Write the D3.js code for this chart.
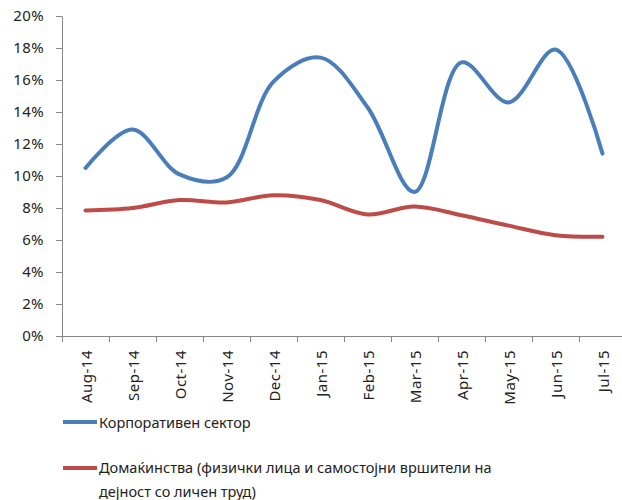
<!DOCTYPE html>
<html><head><meta charset="utf-8">
<script src="https://cdn.jsdelivr.net/npm/d3@7"></script>
<style>body{margin:0;background:#fff}svg{display:block}</style>
</head><body>
<script>
const categories = ["Aug-14","Sep-14","Oct-14","Nov-14","Dec-14","Jan-15","Feb-15","Mar-15","Apr-15","May-15","Jun-15","Jul-15"];
const corporate = [10.5, 12.9, 10.1, 9.9, 15.9, 17.4, 14.3, 9.0, 17.1, 14.6, 17.9, 11.4];
const households = [7.85, 8.0, 8.5, 8.35, 8.8, 8.5, 7.6, 8.1, 7.55, 6.9, 6.3, 6.2];
const yTicks = [0, 2, 4, 6, 8, 10, 12, 14, 16, 18, 20];
const seriesNames = ["Корпоративен сектор", "Домаќинства (физички лица и самостојни вршители на", "дејност со личен труд)"];

const W = 622, H = 500;
const svg = d3.select("body").append("svg").attr("width", W).attr("height", H);
const font = "'Noto Sans', 'Open Sans', sans-serif";

const plotLeft = 62, bandW = 47, plotTop = 16, plotBottom = 336;
const x = d3.scaleBand().domain(categories).range([plotLeft, plotLeft + bandW * categories.length]);
const y = d3.scaleLinear().domain([0, 20]).range([plotBottom, plotTop]);

// y axis
const yAxis = svg.append("g").attr("transform", `translate(${plotLeft},0)`)
  .call(d3.axisLeft(y).tickValues(yTicks).tickSize(6).tickSizeOuter(0).tickFormat(d => d + "%"));
yAxis.select(".domain").attr("stroke", "#878787");
yAxis.selectAll(".tick line").attr("stroke", "#878787");
yAxis.selectAll(".tick text").attr("font-family", font).attr("font-size", 15).attr("letter-spacing", 0.4)
  .attr("fill", "#222").attr("x", -18);

// x axis
const xAxis = svg.append("g").attr("transform", `translate(0,${plotBottom})`)
  .call(d3.axisBottom(x).tickSize(0).tickSizeOuter(0));
xAxis.select(".domain").attr("stroke", "#878787").attr("d", `M${plotLeft},0.5H${W}`);
xAxis.selectAll(".tick line").remove();
xAxis.selectAll(".tick text")
  .attr("font-family", font).attr("font-size", 15).attr("letter-spacing", 0.5).attr("fill", "#222")
  .attr("transform", "rotate(-90)").attr("text-anchor", "end")
  .attr("x", -14).attr("y", 1).attr("dy", "0.35em");
// boundary ticks between categories
const bounds = categories.map((c, i) => plotLeft + bandW * i).concat([plotLeft + bandW * categories.length]);
svg.append("g").selectAll("line").data(bounds).join("line")
  .attr("x1", d => d + 0.5).attr("x2", d => d + 0.5)
  .attr("y1", plotBottom).attr("y2", plotBottom + 6).attr("stroke", "#878787");

const cx = d => x(d) + x.bandwidth() / 2;
const line = d3.line().x(d => cx(d.c)).y(d => y(d.v)).curve(d3.curveCatmullRom.alpha(0.5));

svg.append("path").datum(categories.map((c, i) => ({c, v: households[i]})))
  .attr("d", line).attr("fill", "none").attr("stroke", "#be4b48").attr("stroke-width", 4).attr("stroke-linecap", "round");
svg.append("path").datum(categories.map((c, i) => ({c, v: corporate[i]})))
  .attr("d", line).attr("fill", "none").attr("stroke", "#4a7ebb").attr("stroke-width", 4).attr("stroke-linecap", "round");

// legend
const leg = svg.append("g");
leg.append("line").attr("x1", 63).attr("x2", 97).attr("y1", 422).attr("y2", 422).attr("stroke", "#4a7ebb").attr("stroke-width", 4);
leg.append("text").attr("x", 99).attr("y", 428).text(seriesNames[0]).attr("font-family", font).attr("font-size", 14.5).attr("fill", "#222");
leg.append("line").attr("x1", 63).attr("x2", 97).attr("y1", 468).attr("y2", 468).attr("stroke", "#be4b48").attr("stroke-width", 4);
leg.append("text").attr("x", 99).attr("y", 473).text(seriesNames[1]).attr("font-family", font).attr("font-size", 14.5).attr("fill", "#222");
leg.append("text").attr("x", 99).attr("y", 497).text(seriesNames[2]).attr("font-family", font).attr("font-size", 14.5).attr("fill", "#222");
</script>
</body></html>
